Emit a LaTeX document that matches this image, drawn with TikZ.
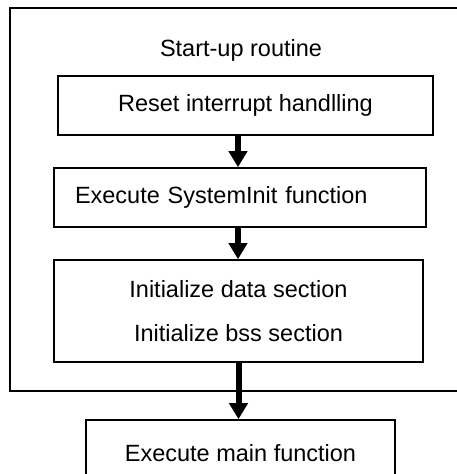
\documentclass[tikz,border=0pt]{standalone}
\usepackage{fontspec}
\setmainfont{Liberation Sans}
\usetikzlibrary{positioning}
\usetikzlibrary{arrows.meta}
\tikzset{stepbox/.style = {draw, line width=1.6pt, inner sep=0pt,
                           font=\fontsize{23.5}{44}\selectfont}}
\tikzset{flow/.style = {line width=6pt,
                        -{Triangle[width=18pt,length=16pt]}}}
\tikzset{
  every picture/.style={
    x=1pt, y=-1pt,
  }
}

\begin{document}
\begin{tikzpicture}
      \useasboundingbox (0,0) rectangle (457,474);
      \clip (0,0) rectangle (457,474);
      % outer routine frame
      \draw[line width=2pt] (10,8) rectangle (480,391);
      \node[font=\fontsize{23.5}{28}\selectfont] (title) at (241,50)
        {Start-up routine};
      \node[stepbox, minimum width=375pt, minimum height=59pt]
        (reset) at (245.5,105.5) {Reset interrupt handlling};
      \node[stepbox, minimum width=372pt, minimum height=59pt,
            text width=330pt, align=left, inner xsep=21pt]
        (sysinit) at (240,197.5) {Execute SystemInit function};
      \node[stepbox, minimum width=369pt, minimum height=102pt, align=center]
        (sections) at (238.5,311)
        {Initialize data section\\Initialize bss section};
      \node[stepbox, minimum width=309pt, minimum height=66pt]
        (main) at (240.5,453) {Execute main function};
      % arrows
      \draw[flow] ([xshift=-7.5pt]reset.south)
        -- ([xshift=-7.5pt]reset.south |- sysinit.north);
      \draw[flow] ([xshift=-2pt]sysinit.south)
        -- ([xshift=-2pt]sysinit.south |- sections.north);
      \draw[flow] (sections.south) -- (sections.south |- main.north);
\end{tikzpicture}
\end{document}
